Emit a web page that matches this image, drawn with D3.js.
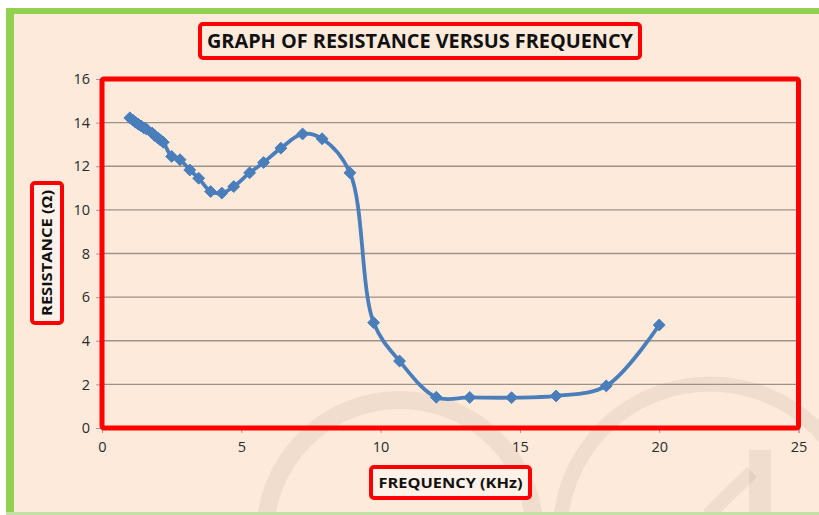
<!DOCTYPE html>
<html><head><meta charset="utf-8">
<script src="https://cdn.jsdelivr.net/npm/d3@7"></script>
<style>html,body{margin:0;padding:0;background:#fff;}svg{display:block;}</style>
</head><body>
<svg id="chart" width="819" height="515"></svg>
<script>
const frequency = [1.0,1.1,1.2,1.3,1.4,1.5,1.6,1.8,1.9,2.0,2.1,2.2,2.5,2.8,3.15,3.47,3.9,4.3,4.73,5.3,5.8,6.42,7.2,7.9,8.9,9.75,10.68,12.0,13.2,14.7,16.3,18.1,20.0];
const resistance = [14.22,14.12,14.02,13.93,13.85,13.76,13.7,13.52,13.4,13.3,13.2,13.1,12.45,12.3,11.83,11.45,10.84,10.77,11.07,11.7,12.17,12.83,13.48,13.26,11.7,4.83,3.07,1.41,1.4,1.39,1.47,1.93,4.72];
const xTicks = [0,5,10,15,20,25];
const yTicks = [0,2,4,6,8,10,12,14,16];
const titleText = "GRAPH OF RESISTANCE VERSUS FREQUENCY";
const xTitle = "FREQUENCY (KHz)";
const yTitle = "RESISTANCE (Ω)";

const svg = d3.select("#chart");
const W = 819, H = 515;
const bg = "#fdeadb", green = "#92d050", red = "#ff0000", blue = "#4a7ebb";
const font = "'Liberation Sans Narrow','Open Sans',sans-serif";

// background + frame
svg.append("rect").attr("x",0).attr("y",0).attr("width",W).attr("height",H).attr("fill","#fff");
svg.append("rect").attr("x",6).attr("y",8).attr("width",W-6).attr("height",H-8).attr("fill",bg);

// watermark
const wm = svg.append("g").attr("fill","none").attr("stroke","rgb(150,120,95)").attr("stroke-opacity",0.11);
wm.append("circle").attr("cx",400).attr("cy",535).attr("r",135).attr("stroke-width",18);
wm.append("circle").attr("cx",710).attr("cy",534).attr("r",150).attr("stroke-width",15);
wm.append("line").attr("x1",760).attr("y1",450).attr("x2",760).attr("y2",515).attr("stroke-width",22);
wm.append("line").attr("x1",708).attr("y1",515).attr("x2",752).attr("y2",472).attr("stroke-width",14);

svg.append("rect").attr("x",6).attr("y",8).attr("width",W-6).attr("height",6).attr("fill",green);
svg.append("rect").attr("x",6).attr("y",8).attr("width",8).attr("height",H-8).attr("fill",green);
svg.append("rect").attr("x",6).attr("y",512).attr("width",W-6).attr("height",3).attr("fill","#c5e0a5");

const x = d3.scaleLinear().domain([0,25]).range([102,798.5]);
const y = d3.scaleLinear().domain([0,16]).range([428,79]);

// gridlines
svg.append("g").selectAll("line").data(yTicks.filter(t=>t>0&&t<16)).join("line")
  .attr("x1",x(0)).attr("x2",x(25)).attr("y1",d=>y(d)).attr("y2",d=>y(d))
  .attr("stroke","#9a938c").attr("stroke-width",1.3);

// axes
const yAxis = svg.append("g").attr("transform",`translate(${x(0)},0)`)
  .call(d3.axisLeft(y).tickValues(yTicks).tickSize(6).tickPadding(6));
const xAxis = svg.append("g").attr("transform",`translate(0,${y(0)})`)
  .call(d3.axisBottom(x).tickValues(xTicks).tickSize(5).tickPadding(9));
[yAxis,xAxis].forEach(a=>{
  a.select(".domain").attr("stroke","#999");
  a.selectAll(".tick line").attr("stroke","#999");
  a.selectAll("text").attr("font-family","'Open Sans',sans-serif").attr("font-size",14.5).attr("fill","#2a2a2a");
});

// plot-area red frame
svg.append("rect").attr("x",x(0)).attr("y",y(16)).attr("width",x(25)-x(0)).attr("height",y(0)-y(16))
  .attr("fill","none").attr("stroke",red).attr("stroke-width",5).attr("rx",2);

// line + markers
const pts = frequency.map((f,i)=>[f,resistance[i]]);
const line = d3.line().x(d=>x(d[0])).y(d=>y(d[1])).curve(d3.curveCatmullRom.alpha(0.5));
svg.append("path").attr("d",line(pts)).attr("fill","none").attr("stroke",blue).attr("stroke-width",3.8).attr("stroke-linejoin","round");
svg.append("g").selectAll("path").data(pts).join("path")
  .attr("d",d3.symbol().type(d3.symbolDiamond2).size(90))
  .attr("transform",d=>`translate(${x(d[0])},${y(d[1])})`)
  .attr("fill",blue).attr("stroke",blue).attr("stroke-width",1);

// title box
svg.append("rect").attr("x",200).attr("y",24).attr("width",440).attr("height",34).attr("rx",3)
  .attr("fill",bg).attr("stroke",red).attr("stroke-width",4);
svg.append("text").attr("x",420).attr("y",48).attr("text-anchor","middle")
  .attr("font-family",font).attr("font-weight","bold").attr("font-size",19).attr("fill","#111")
  .attr("textLength",426).attr("lengthAdjust","spacingAndGlyphs").text(titleText);

// x title
svg.append("rect").attr("x",371).attr("y",467).attr("width",159).attr("height",31).attr("rx",3)
  .attr("fill","#fdf1e8").attr("stroke",red).attr("stroke-width",4);
svg.append("text").attr("x",450.5).attr("y",488).attr("text-anchor","middle")
  .attr("font-family",font).attr("font-weight","bold").attr("font-size",15).attr("fill","#111")
  .attr("textLength",144).attr("lengthAdjust","spacingAndGlyphs").text(xTitle);

// y title
svg.append("rect").attr("x",32).attr("y",183).attr("width",30).attr("height",140).attr("rx",3)
  .attr("fill","#fdf1e8").attr("stroke",red).attr("stroke-width",4);
svg.append("text").attr("transform","translate(52,253) rotate(-90)").attr("text-anchor","middle")
  .attr("font-family",font).attr("font-weight","bold").attr("font-size",15).attr("fill","#111")
  .attr("textLength",126).attr("lengthAdjust","spacingAndGlyphs").text(yTitle);
</script>
</body></html>
